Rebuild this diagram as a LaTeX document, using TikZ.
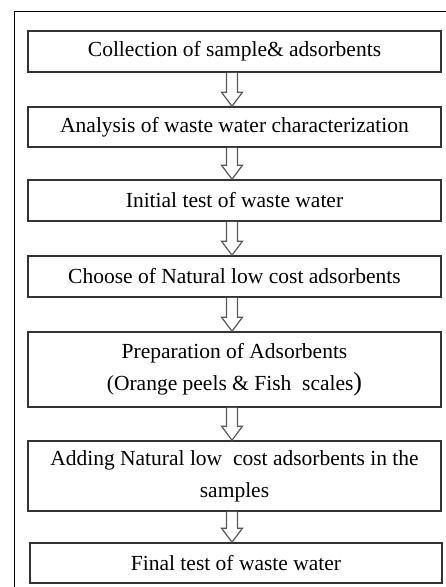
\documentclass[tikz,border=0pt]{standalone}
\usepackage{fontspec}
\setmainfont{Liberation Serif}
\usetikzlibrary{calc}
\tikzset{
  stepbox/.style={draw=black!80, line width=1.6pt, fill=white, inner sep=0pt,
    align=center, font=\fontsize{21.5}{32}\selectfont, text=black},
  arr/.style={draw=black!65, line width=1.2pt, fill=white, line join=miter},
  frame/.style={draw=black, line width=1.8pt}
}
\newcommand\blockarrow[2]{%
  \draw[arr] let \p1=(#1.south), \p2=(#2.north) in
    (226.5pt,\y1) -- (226.5pt,\y2+14pt) -- (221.5pt,\y2+14pt) -- (232pt,\y2)
    -- (242.5pt,\y2+14pt) -- (237.5pt,\y2+14pt) -- (237.5pt,\y1);}
\begin{document}
\begin{tikzpicture}[x=1pt,y=-1pt]
\useasboundingbox[fill=white] (0,0) rectangle (446,587);
\coordinate (ftr) at (446,11.5);
\coordinate (ftl) at (14.5,11.5);
\coordinate (fbl) at (14.5,587);
\draw[frame] (ftr) -- (ftl) -- (fbl);
\node[stepbox, minimum width=413pt, minimum height=41pt] (b1) at (234.5,51.5) {Collection of sample\& adsorbents};
\node[stepbox, minimum width=413pt, minimum height=40pt] (b2) at (234.5,127) {Analysis of waste water characterization};
\node[stepbox, minimum width=413pt, minimum height=41pt] (b3) at (234.5,200.5) {Initial test of waste water};
\node[stepbox, minimum width=413pt, minimum height=41pt] (b4) at (234.5,276.5) {Choose of Natural low cost adsorbents};
\node[stepbox, minimum width=413pt, minimum height=75pt] (b5) at (234.5,369.5) {Preparation of Adsorbents\\(Orange peels \& Fish\ \ scales{\fontsize{26}{32}\selectfont)}};
\node[stepbox, minimum width=413pt, minimum height=70pt] (b6) at (234.5,476) {Adding Natural low\ \ cost adsorbents in the\\samples};
\node[stepbox, minimum width=412pt, minimum height=40pt] (b7) at (236,563) {Final test of waste water};
\blockarrow{b1}{b2}
\blockarrow{b2}{b3}
\blockarrow{b3}{b4}
\blockarrow{b4}{b5}
\blockarrow{b5}{b6}
\blockarrow{b6}{b7}
\end{tikzpicture}
\end{document}
